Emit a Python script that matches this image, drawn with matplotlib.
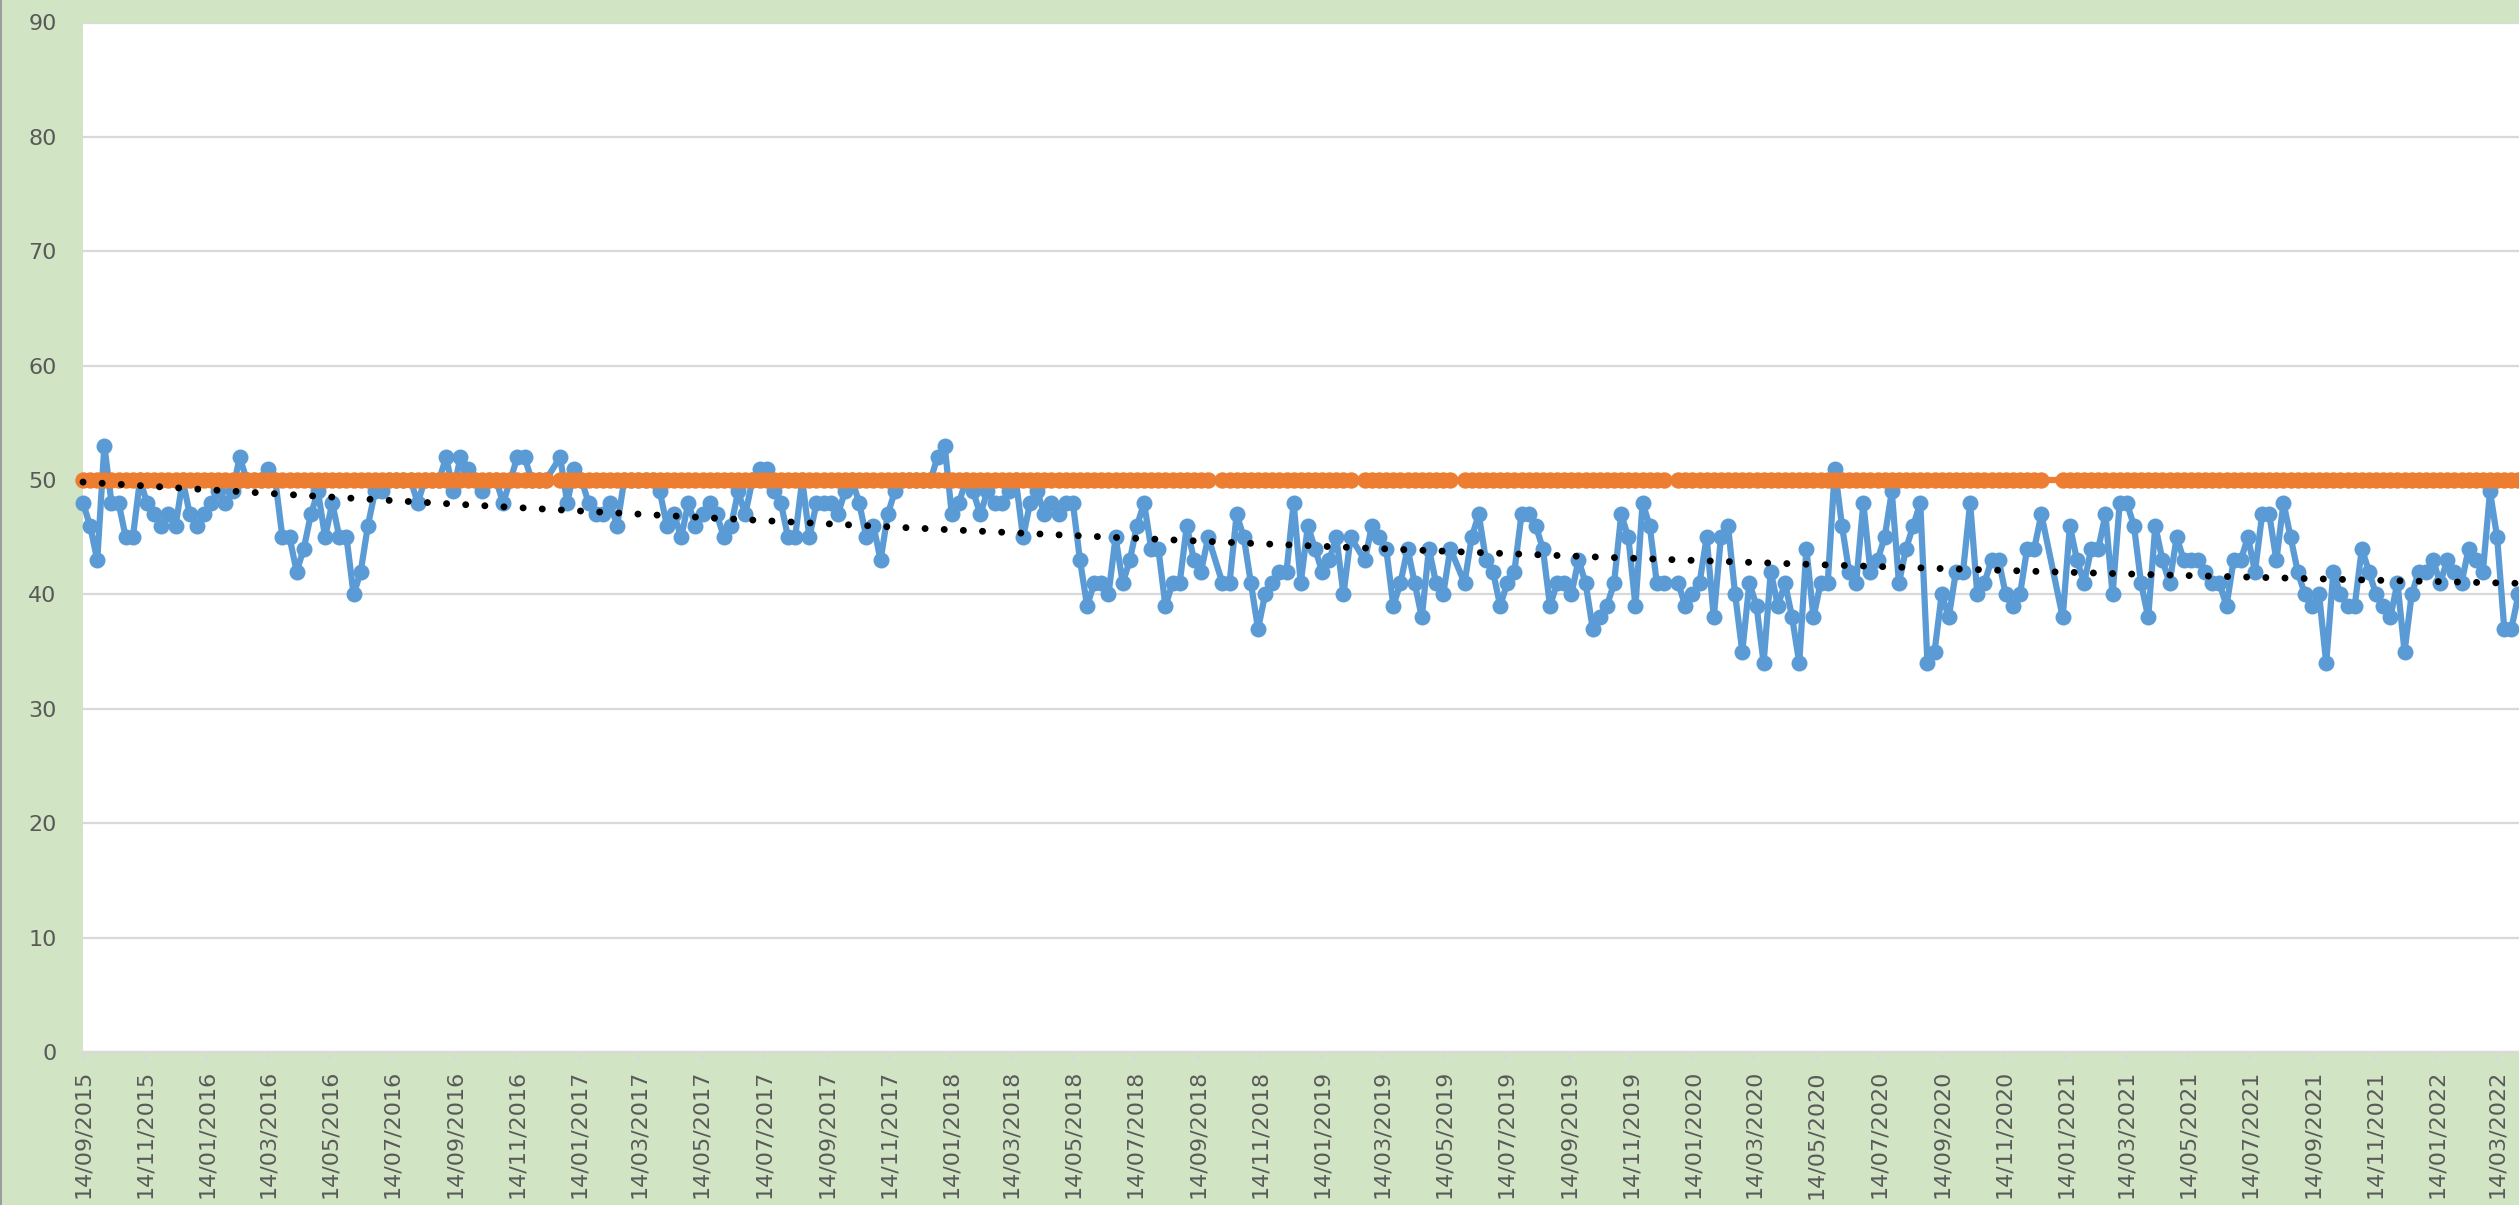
import matplotlib
matplotlib.use("Agg")
import matplotlib.pyplot as plt
import matplotlib.dates as mdates
from matplotlib.lines import Line2D
import numpy as np
import pandas as pd

# ---------------- data ----------------
start_date = "2015-09-14"          # first weekly reading
# weekly readings (None = week without data)
blue_values = [
    48, 46, 43, 53, 48, 48, 45, 45, 50, 48,
    47, 46, 47, 46, 50, 47, 46, 47, 48, 49,
    48, 49, 52, 50, 50, 50, 51, 50, 45, 45,
    42, 44, 47, 49, 45, 48, 45, 45, 40, 42,
    46, 49, 49, 50, 50, 50, 50, 48, 50, 50,
    50, 52, 49, 52, 51, 50, 49, 50, 50, 48,
    50, 52, 52, 50, 50, 50, None, 52, 48, 51,
    50, 48, 47, 47, 48, 46, 50, 50, 50, 50,
    50, 49, 46, 47, 45, 48, 46, 47, 48, 47,
    45, 46, 49, 47, 50, 51, 51, 49, 48, 45,
    45, 50, 45, 48, 48, 48, 47, 49, 50, 48,
    45, 46, 43, 47, 49, 50, 50, 50, 50, 50,
    52, 53, 47, 48, 50, 49, 47, 49, 48, 48,
    49, 50, 45, 48, 49, 47, 48, 47, 48, 48,
    43, 39, 41, 41, 40, 45, 41, 43, 46, 48,
    44, 44, 39, 41, 41, 46, 43, 42, 45, None,
    41, 41, 47, 45, 41, 37, 40, 41, 42, 42,
    48, 41, 46, 44, 42, 43, 45, 40, 45, None,
    43, 46, 45, 44, 39, 41, 44, 41, 38, 44,
    41, 40, 44, None, 41, 45, 47, 43, 42, 39,
    41, 42, 47, 47, 46, 44, 39, 41, 41, 40,
    43, 41, 37, 38, 39, 41, 47, 45, 39, 48,
    46, 41, 41, None, 41, 39, 40, 41, 45, 38,
    45, 46, 40, 35, 41, 39, 34, 42, 39, 41,
    38, 34, 44, 38, 41, 41, 51, 46, 42, 41,
    48, 42, 43, 45, 49, 41, 44, 46, 48, 34,
    35, 40, 38, 42, 42, 48, 40, 41, 43, 43,
    40, 39, 40, 44, 44, 47, None, None, 38, 46,
    43, 41, 44, 44, 47, 40, 48, 48, 46, 41,
    38, 46, 43, 41, 45, 43, 43, 43, 42, 41,
    41, 39, 43, 43, 45, 42, 47, 47, 43, 48,
    45, 42, 40, 39, 40, 34, 42, 40, 39, 39,
    44, 42, 40, 39, 38, 41, 35, 40, 42, 42,
    43, 41, 43, 42, 41, 44, 43, 42, 49, 45,
    37, 37, 40,
]
target_value = 50                  # orange reference series
trend_degree = 2                   # polynomial trendline of the blue series
y_ticks = [0, 10, 20, 30, 40, 50, 60, 70, 80, 90]
x_tick_first = "2015-09-14"
x_tick_last = "2022-03-14"
x_tick_step_months = 2

# ---------------- build series ----------------
dates = pd.date_range(start_date, periods=len(blue_values), freq="7D")
blue = np.array([np.nan if v is None else v for v in blue_values], dtype=float)
valid = ~np.isnan(blue)
d_valid = dates[valid]
b_valid = blue[valid]
o_valid = np.array([target_value for v in blue_values if v is not None], dtype=float)

xnum = mdates.date2num(d_valid.to_pydatetime())
coef = np.polyfit(xnum - xnum[0], b_valid, trend_degree)
trend_x = np.linspace(xnum[0], xnum[-1], 400)
trend_y = np.polyval(coef, trend_x - xnum[0])

tick_dates = []
t = pd.Timestamp(x_tick_first)
while t <= pd.Timestamp(x_tick_last):
    tick_dates.append(t)
    t = t + pd.DateOffset(months=x_tick_step_months)

# ---------------- figure ----------------
W, H = 2519, 1205
fig = plt.figure(figsize=(W / 100, H / 100), dpi=100)
bg = "#D1E4C3"
fig.patch.set_facecolor(bg)

left, right = 83 / W, 1.0
bottom, top = (H - 1052) / H, (H - 22.5) / H
ax = fig.add_axes([left, bottom, right - left, top - bottom])
ax.set_facecolor("white")

blue_c = "#5B9BD5"
orange_c = "#ED7D31"

ax.plot(d_valid, b_valid, color=blue_c, lw=4.5, marker="o", ms=11.5,
        mec=blue_c, mfc=blue_c, mew=0, zorder=3, clip_on=False,
        solid_joinstyle="round")
ax.plot(d_valid, o_valid, color=orange_c, lw=4.5, marker="o", ms=11.8,
        mec=orange_c, mfc=orange_c, mew=0, zorder=4, clip_on=False)
ax.plot(mdates.num2date(trend_x), trend_y, color="black", lw=5.0,
        linestyle=(0, (0.01, 2.75)), dash_capstyle="round", zorder=5,
        clip_on=False)

ax.set_ylim(0, 90)
ax.set_yticks(y_ticks)
x0 = mdates.date2num(pd.Timestamp(start_date).to_pydatetime())
ax.set_xlim(x0, x0 + 2394.5)

ax.set_xticks([mdates.date2num(d.to_pydatetime()) for d in tick_dates])
ax.set_xticklabels([d.strftime("%d/%m/%Y") for d in tick_dates],
                   rotation=90, ha="center", va="top")

grid_c = "#D9D9D9"
ax.yaxis.grid(True, color=grid_c, lw=1.6, zorder=0)
ax.set_axisbelow(True)
for s in ["top", "right", "left"]:
    ax.spines[s].set_visible(False)
ax.spines["bottom"].set_color(grid_c)
ax.spines["bottom"].set_linewidth(1.6)
ax.spines["bottom"].set_zorder(1)

lab_c = "#595959"
ax.tick_params(axis="y", length=0, pad=19, labelsize=16, labelcolor=lab_c)
ax.tick_params(axis="x", length=6, width=1.5, color=grid_c, pad=7,
               labelsize=16, labelcolor=lab_c)
for lab in ax.get_xticklabels() + ax.get_yticklabels():
    lab.set_fontfamily("DejaVu Sans")

fig.add_artist(Line2D([0.7 / W, 0.7 / W], [0, 1], color="#9A9A9A", lw=1.4,
                      transform=fig.transFigure))

fig.savefig("out.png", dpi=100, facecolor=bg)
